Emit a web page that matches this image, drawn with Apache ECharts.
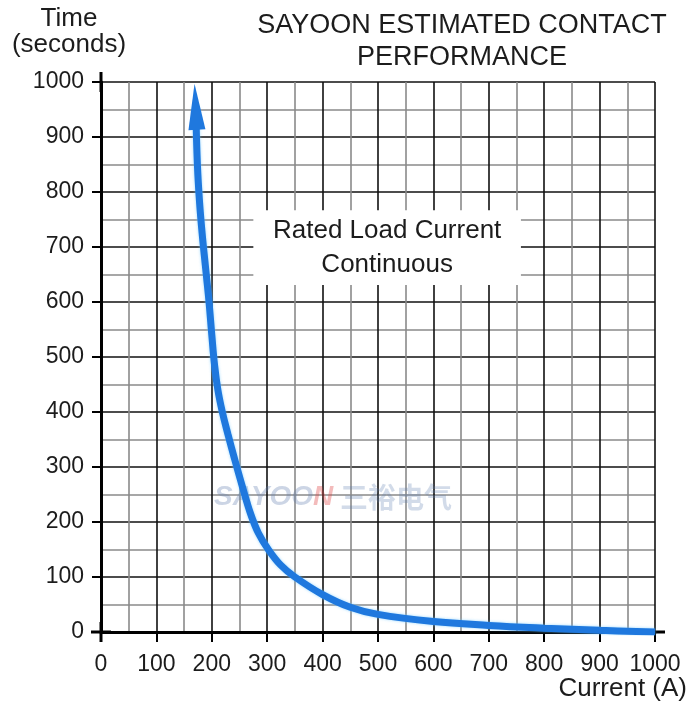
<!DOCTYPE html>
<html>
<head>
<meta charset="utf-8">
<script src="https://cdn.jsdelivr.net/npm/echarts@6/dist/echarts.min.js"></script>
<style>
  html, body { margin: 0; padding: 0; background: #fff; }
  #chart { width: 688px; height: 701px; }
</style>
</head>
<body>
<div id="chart"></div>
<script>
// current (A) vs time (s)
const currentA = [171, 174, 178, 183, 189, 195, 200, 205, 211, 219, 229, 241, 255, 270, 284, 302, 324, 350, 400, 450, 500, 600, 700, 800, 900, 1000]
const timeS = [955, 850, 780, 720, 660, 600, 540, 485, 440, 400, 360, 315, 265, 215, 180, 150, 122, 100, 68, 45, 32, 19, 12, 7, 3, 0]
const xTicks = [0, 1000, 100]
const yTicks = [0, 1000, 100]
const noteBox = [[275, 767], [758, 631]]

const font = 'Liberation Sans, Arial, sans-serif'
const ink = '#1c1c1c'

const points = currentA.map((x, i) => {
  const p = { value: [x, timeS[i]] }
  if (i === 0) {
    // arrow head at the top of the curve
    p.symbol = 'triangle'
    p.symbolSize = [17, 46]
    p.symbolRotate = 3
  }
  return p
})

function axisCommon(len, margin) {
  return {
    type: 'value',
    axisLine: {
      show: true, symbol: ['rect', 'rect'], symbolSize: [3, 20],
      lineStyle: { color: '#000', width: 3 }
    },
    axisTick: { show: true, length: len, lineStyle: { color: '#000', width: 2 } },
    axisLabel: {
      color: ink, fontSize: 23, fontFamily: font, margin: margin,
      formatter: (v) => String(v)
    },
    splitLine: { show: true, lineStyle: { color: '#111', width: 1.6 } },
    minorTick: { show: true, splitNumber: 2, length: 0 },
    minorSplitLine: { show: true, lineStyle: { color: '#8a8a8a', width: 1.6 } }
  }
}

const chart = echarts.init(document.getElementById('chart'))
chart.setOption({
  animation: false,
  grid: { left: 101, right: 33, top: 82, bottom: 69 },
  xAxis: Object.assign(axisCommon(10, 21), {
    min: xTicks[0], max: xTicks[1], interval: xTicks[2]
  }),
  yAxis: Object.assign(axisCommon(9, 17), {
    min: yTicks[0], max: yTicks[1], interval: yTicks[2]
  }),
  graphic: [
    {
      type: 'text', x: 462, y: 10, z: 10,
      style: {
        text: 'SAYOON ESTIMATED CONTACT\nPERFORMANCE', textAlign: 'center',
        font: '27px ' + font, fill: ink, lineHeight: 32
      }
    },
    {
      type: 'text', x: 69, y: 6, z: 10,
      style: {
        text: 'Time\n(seconds)', textAlign: 'center',
        font: '26px ' + font, fill: ink, lineHeight: 26
      }
    },
    {
      type: 'text', right: 1, top: 676, z: 10,
      style: { text: 'Current (A)', font: '26px ' + font, fill: ink }
    },
    {
      type: 'text', x: 214, y: 483, z: 1,
      style: {
        text: '{a|SAYOO}{b|N}  {c|三裕电气}',
        rich: {
          a: { font: 'italic bold 28px ' + font, fill: 'rgba(95,125,175,0.32)' },
          b: { font: 'italic bold 28px ' + font, fill: 'rgba(220,60,60,0.35)' },
          c: { font: 'bold 28px Noto Sans CJK SC', fill: 'rgba(95,125,175,0.28)' }
        }
      }
    }
  ],
  series: [
    {
      type: 'line',
      data: points,
      symbol: 'none',
      smooth: 0.4,
      itemStyle: { color: '#1f78de' },
      lineStyle: {
        color: '#1f78de', width: 7,
        shadowColor: 'rgba(110,200,255,0.7)', shadowBlur: 3
      },
      markArea: {
        silent: true,
        itemStyle: { color: '#fff', opacity: 1 },
        label: {
          show: true, position: 'inside',
          color: ink, fontSize: 26, fontFamily: font, lineHeight: 34
        },
        data: [[
          { name: 'Rated Load Current\nContinuous', coord: noteBox[0] },
          { coord: noteBox[1] }
        ]]
      }
    }
  ]
})
</script>
</body>
</html>
